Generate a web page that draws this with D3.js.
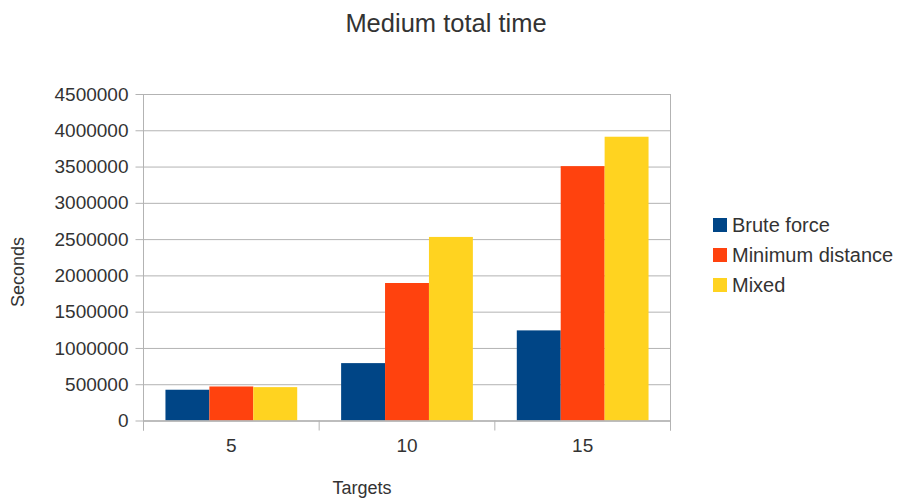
<!DOCTYPE html>
<html>
<head>
<meta charset="utf-8">
<script src="https://cdn.jsdelivr.net/npm/d3@7"></script>
<style>
  body { margin: 0; background: #fff; }
  svg { display: block; }
  text { font-family: "Liberation Sans", Arial, sans-serif; fill: #333; }
</style>
</head>
<body>
<svg id="chart" width="901" height="502"></svg>
<script>
// Chart data
const categories = ["5", "10", "15"];
const seriesNames = ["Brute force", "Minimum distance", "Mixed"];
const bruteForce = [424000, 791000, 1242000];
const minimumDistance = [469000, 1895000, 3506000];
const mixed = [460000, 2530000, 3911000];
const yTicks = [0, 500000, 1000000, 1500000, 2000000, 2500000, 3000000, 3500000, 4000000, 4500000];
const colors = ["#004586", "#ff420e", "#ffd320"];

const seriesValues = [bruteForce, minimumDistance, mixed];

const svg = d3.select("#chart");
const plotLeft = 143.5, plotRight = 670.5, plotTop = 94, plotBottom = 420.5;
const gridColor = "#b3b3b3";

const x = d3.scaleBand().domain(categories).range([plotLeft, plotRight]).paddingInner(0).paddingOuter(0);
const xs = d3.scaleBand().domain(seriesNames).range([0, x.bandwidth()]).paddingInner(0).paddingOuter(0.5);
const y = d3.scaleLinear().domain([0, 4500000]).range([plotBottom, plotTop]);

// Horizontal grid lines with small ticks on the left
const yAxis = d3.axisLeft(y).tickValues(yTicks).tickSize(-(plotRight - plotLeft)).tickPadding(15).tickFormat(d3.format("d"));
const gy = svg.append("g").attr("transform", `translate(${plotLeft},0)`).call(yAxis);
gy.select(".domain").remove();
gy.selectAll(".tick line").attr("stroke", gridColor).attr("x1", -8);
gy.selectAll(".tick text").attr("font-size", 19).attr("fill", "#333").attr("x", -15)
  .style("font-family", '"Liberation Sans", Arial, sans-serif');

// Vertical frame lines
svg.append("line").attr("x1", plotLeft).attr("x2", plotLeft).attr("y1", plotTop).attr("y2", plotBottom + 10)
  .attr("stroke", gridColor);
svg.append("line").attr("x1", plotRight).attr("x2", plotRight).attr("y1", plotTop).attr("y2", plotBottom + 10)
  .attr("stroke", gridColor);

// Bars
const groups = svg.append("g").selectAll("g").data(categories).join("g")
  .attr("transform", d => `translate(${x(d)},0)`);
groups.selectAll("rect")
  .data((c, i) => seriesNames.map((s, k) => ({ s, k, v: seriesValues[k][i] })))
  .join("rect")
  .attr("x", d => xs(d.s))
  .attr("width", xs.bandwidth())
  .attr("y", d => y(d.v))
  .attr("height", d => plotBottom - y(d.v))
  .attr("fill", d => colors[d.k]);

// Category axis
const xAxis = d3.axisBottom(x).tickSize(0).tickPadding(18);
const gx = svg.append("g").attr("transform", `translate(0,${plotBottom})`).call(xAxis);
gx.select(".domain").attr("stroke", gridColor).attr("stroke-width", 1.5);
gx.selectAll(".tick text").attr("font-size", 19).attr("fill", "#333")
  .style("font-family", '"Liberation Sans", Arial, sans-serif');
// Category separators below the axis
const seps = [plotLeft].concat(categories.map(c => x(c) + x.bandwidth()));
svg.append("g").selectAll("line").data(seps).join("line")
  .attr("x1", d => d).attr("x2", d => d)
  .attr("y1", plotBottom).attr("y2", plotBottom + 10)
  .attr("stroke", gridColor);

// Title and axis titles
svg.append("text").attr("x", 446).attr("y", 32).attr("text-anchor", "middle")
  .attr("font-size", 25.5).text("Medium total time");
svg.append("text").attr("x", 362).attr("y", 494).attr("text-anchor", "middle")
  .attr("font-size", 18).text("Targets");
svg.append("text").attr("transform", "translate(24,272) rotate(-90)").attr("text-anchor", "middle")
  .attr("font-size", 18).text("Seconds");

// Legend
const legend = svg.append("g").selectAll("g").data(seriesNames).join("g")
  .attr("transform", (d, i) => `translate(713,${218 + i * 30})`);
legend.append("rect").attr("width", 14).attr("height", 14)
  .attr("fill", (d, i) => colors[i]);
legend.append("text").attr("x", 19).attr("y", 7).attr("dy", "0.35em")
  .attr("font-size", 20).text(d => d);
</script>
</body>
</html>
